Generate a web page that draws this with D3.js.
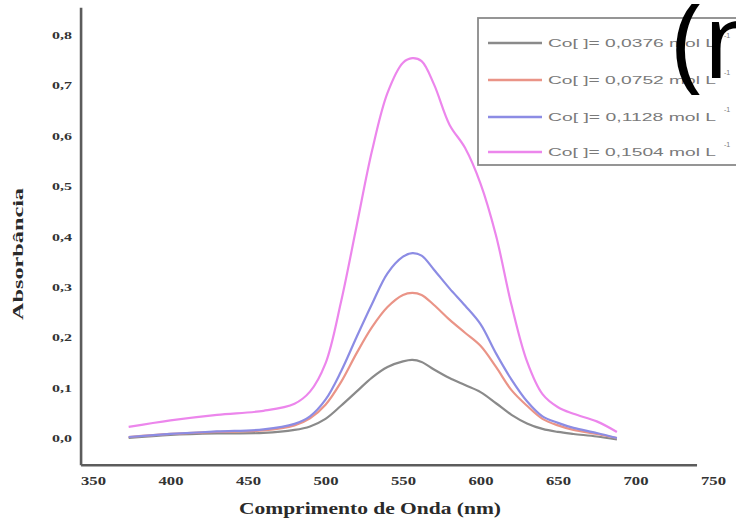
<!DOCTYPE html>
<html>
<head>
<meta charset="utf-8">
<script src="https://cdn.jsdelivr.net/npm/d3@7/dist/d3.min.js"></script>
<style>
  html, body { margin: 0; padding: 0; background: #ffffff; }
  svg { display: block; }
</style>
</head>
<body>
<svg id="chart" width="736" height="524"></svg>
<script>
// Wavelength grid (nm) shared by all spectra
const wavelengths = [373, 400, 430, 460, 480, 490, 500, 510, 520, 530, 540, 550, 556, 562,
                     570, 580, 590, 600, 610, 620, 630, 640, 650, 660, 675, 688];

// Absorbance for each Co concentration
const abs0376 = [0.000, 0.006, 0.009, 0.010, 0.016, 0.023, 0.038, 0.064, 0.092, 0.120, 0.141, 0.152, 0.155, 0.151,
                 0.136, 0.119, 0.105, 0.091, 0.069, 0.046, 0.029, 0.018, 0.012, 0.008, 0.003, -0.003];
const abs0752 = [0.002, 0.008, 0.012, 0.015, 0.025, 0.039, 0.066, 0.111, 0.168, 0.220, 0.260, 0.284, 0.288, 0.284,
                 0.264, 0.235, 0.209, 0.183, 0.141, 0.095, 0.064, 0.038, 0.025, 0.016, 0.008, 0.000];
const abs1128 = [0.002, 0.008, 0.013, 0.017, 0.028, 0.043, 0.076, 0.132, 0.200, 0.266, 0.327, 0.360, 0.367, 0.362,
                 0.334, 0.297, 0.263, 0.226, 0.168, 0.116, 0.073, 0.043, 0.030, 0.020, 0.010, 0.000];
const abs1504 = [0.022, 0.035, 0.046, 0.054, 0.068, 0.092, 0.148, 0.270, 0.420, 0.570, 0.685, 0.745, 0.754, 0.748,
                 0.702, 0.622, 0.576, 0.505, 0.402, 0.264, 0.152, 0.087, 0.061, 0.048, 0.033, 0.012];

const seriesLabels = ["Co[ ]= 0,0376 mol L", "Co[ ]= 0,0752 mol L", "Co[ ]= 0,1128 mol L", "Co[ ]= 0,1504 mol L"];
const seriesColors = ["#8a8a8a", "#ea9487", "#8c8ce4", "#ec86ec"];
const seriesValues = [abs0376, abs0752, abs1128, abs1504];

const xTicks = [350, 400, 450, 500, 550, 600, 650, 700, 750];
const yTicks = [0, 0.1, 0.2, 0.3, 0.4, 0.5, 0.6, 0.7, 0.8];
const xAxisExtent = [342.3, 739.7];   // nm span covered by the drawn x axis line
const yAxisExtent = [-0.054, 0.854];  // absorbance span covered by the drawn y axis line

const svg = d3.select("#chart");

const x = d3.scaleLinear().domain([350, 750]).range([93, 713]);
const y = d3.scaleLinear().domain([0, 0.8]).range([438, 35]);

const axisColor = "#5c5c5c";
const serif = "'Liberation Serif', 'DejaVu Serif', serif";

// axis lines
svg.append("line")
  .attr("x1", x(xAxisExtent[0])).attr("x2", x(xAxisExtent[1]))
  .attr("y1", y(yAxisExtent[0])).attr("y2", y(yAxisExtent[0]))
  .attr("stroke", axisColor).attr("stroke-width", 2.6);
svg.append("line")
  .attr("x1", x(xAxisExtent[0])).attr("x2", x(xAxisExtent[0]))
  .attr("y1", y(yAxisExtent[0])).attr("y2", y(yAxisExtent[1]))
  .attr("stroke", axisColor).attr("stroke-width", 2.6);

// x axis labels
const gx = svg.append("g")
  .attr("transform", `translate(0,${y(yAxisExtent[0])})`)
  .call(d3.axisBottom(x).tickValues(xTicks).tickSize(0).tickPadding(11).tickFormat(d3.format("d")));
gx.select(".domain").remove();
gx.selectAll("text")
  .attr("font-family", serif).attr("font-weight", "bold").attr("font-size", 12)
  .attr("fill", "#333").attr("textLength", 25).attr("lengthAdjust", "spacingAndGlyphs");

// y axis labels
const gy = svg.append("g")
  .attr("transform", `translate(${x(xAxisExtent[0])},0)`)
  .call(d3.axisLeft(y).tickValues(yTicks).tickSize(0).tickPadding(9)
    .tickFormat(d => d3.format(".1f")(d).replace(".", ",")));
gy.select(".domain").remove();
gy.selectAll("text")
  .attr("font-family", serif).attr("font-weight", "bold").attr("font-size", 11)
  .attr("fill", "#333").attr("textLength", 20).attr("lengthAdjust", "spacingAndGlyphs");

// axis titles
svg.append("text")
  .attr("x", 370).attr("y", 514)
  .attr("text-anchor", "middle")
  .attr("font-family", serif).attr("font-weight", "bold").attr("font-size", 17)
  .attr("fill", "#2a2a2a")
  .attr("textLength", 262).attr("lengthAdjust", "spacingAndGlyphs")
  .text("Comprimento de Onda (nm)");

svg.append("text")
  .attr("transform", "translate(23,254) rotate(-90)")
  .attr("text-anchor", "middle")
  .attr("font-family", serif).attr("font-weight", "bold").attr("font-size", 15)
  .attr("fill", "#2a2a2a")
  .attr("textLength", 132).attr("lengthAdjust", "spacingAndGlyphs")
  .text("Absorbância");

// spectra
const line = d3.line()
  .x((d, i) => x(wavelengths[i]))
  .y(d => y(d))
  .curve(d3.curveCatmullRom.alpha(0.5));

svg.append("g").selectAll("path")
  .data(seriesValues)
  .join("path")
  .attr("d", line)
  .attr("fill", "none")
  .attr("stroke", (d, i) => seriesColors[i])
  .attr("stroke-width", 2.2)
  .attr("stroke-linejoin", "round");

// legend
const legend = svg.append("g");
legend.append("rect")
  .attr("x", 478).attr("y", 18).attr("width", 300).attr("height", 147)
  .attr("fill", "#ffffff").attr("stroke", "#8a8a8a").attr("stroke-width", 1.8);

const rowY = [43, 80, 117, 152];
seriesLabels.forEach((label, i) => {
  legend.append("line")
    .attr("x1", 488).attr("x2", 542)
    .attr("y1", rowY[i]).attr("y2", rowY[i])
    .attr("stroke", seriesColors[i]).attr("stroke-width", 2.6);
  legend.append("text")
    .attr("x", 548).attr("y", rowY[i] + 4)
    .attr("font-family", "'Liberation Sans', Arial, sans-serif").attr("font-size", 11)
    .attr("fill", "#7a7a7a")
    .attr("textLength", 168).attr("lengthAdjust", "spacingAndGlyphs")
    .text(label);
  legend.append("text")
    .attr("x", 724).attr("y", rowY[i] - 5)
    .attr("font-family", "'Liberation Sans', Arial, sans-serif").attr("font-size", 7)
    .attr("fill", "#7a7a7a")
    .text("-1");
});

// large heading fragment at the top right
svg.append("text")
  .attr("x", 672).attr("y", 78)
  .attr("font-family", "'Open Sans', 'Noto Sans', sans-serif").attr("font-size", 105)
  .attr("fill", "#000000")
  .text("(n");
</script>
</body>
</html>
